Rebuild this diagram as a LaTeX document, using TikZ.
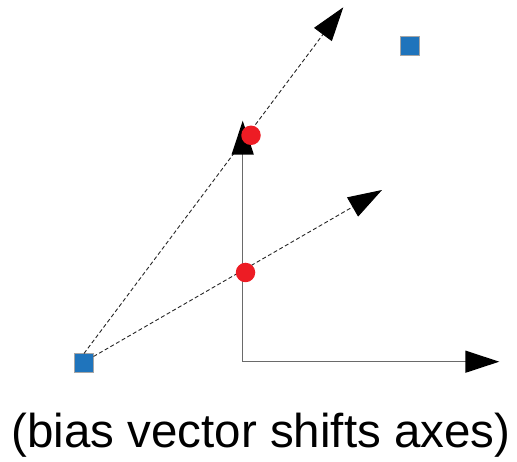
\documentclass[tikz,border=0pt]{standalone}
\usepackage{fontspec}
\setmainfont{Liberation Sans}
\usetikzlibrary{arrows.meta}
\definecolor{sqblue}{HTML}{1F74BC}
\definecolor{dotred}{HTML}{ED1C24}
\definecolor{axisgray}{HTML}{6A6A6A}
\tikzset{
  bigtip/.tip={Triangle[length=34pt,width=22pt,color=black]},
  sqbox/.style={draw=gray!70, fill=sqblue, line width=0.8pt, minimum size=19pt, inner sep=0pt, outer sep=0pt},
  reddot/.style={circle, fill=dotred, minimum size=19.5pt, inner sep=0pt},
  dashline/.style={black!85, line width=0.9pt, dash pattern=on 4pt off 2.5pt, -bigtip},
  axisline/.style={axisgray, line width=1.4pt, -bigtip},
}
\begin{document}
\begin{tikzpicture}[x=1pt,y=-1pt]
\useasboundingbox (0,0) rectangle (517,462);
% coordinates
\coordinate (o) at (242.7,361.7);
\coordinate (ytip) at (242.7,120.7);
\coordinate (xtip) at (499.3,361.7);
\coordinate (t1) at (343.3,7.3);
\coordinate (t2) at (382,190);
% squares
\node[sqbox] (sq1) at (84,363) {};
\node[sqbox] (sq2) at (409.5,46) {};
% dashed vectors
\draw[dashline] (sq1.north) -- (t1);
\draw[dashline] ([yshift=-3pt]sq1.north east) -- (t2);
% axes
\draw[axisline] (o) -- (ytip);
\draw[axisline] (o) -- (xtip);
% red dots
\node[reddot] (r1) at (251,135.3) {};
\node[reddot] (r2) at (245.5,272.5) {};
% caption
\node[anchor=base, font=\fontsize{47.5pt}{54pt}\selectfont, inner sep=0pt] (cap) at (261,447) {(bias vector shifts axes)};
\end{tikzpicture}
\end{document}
